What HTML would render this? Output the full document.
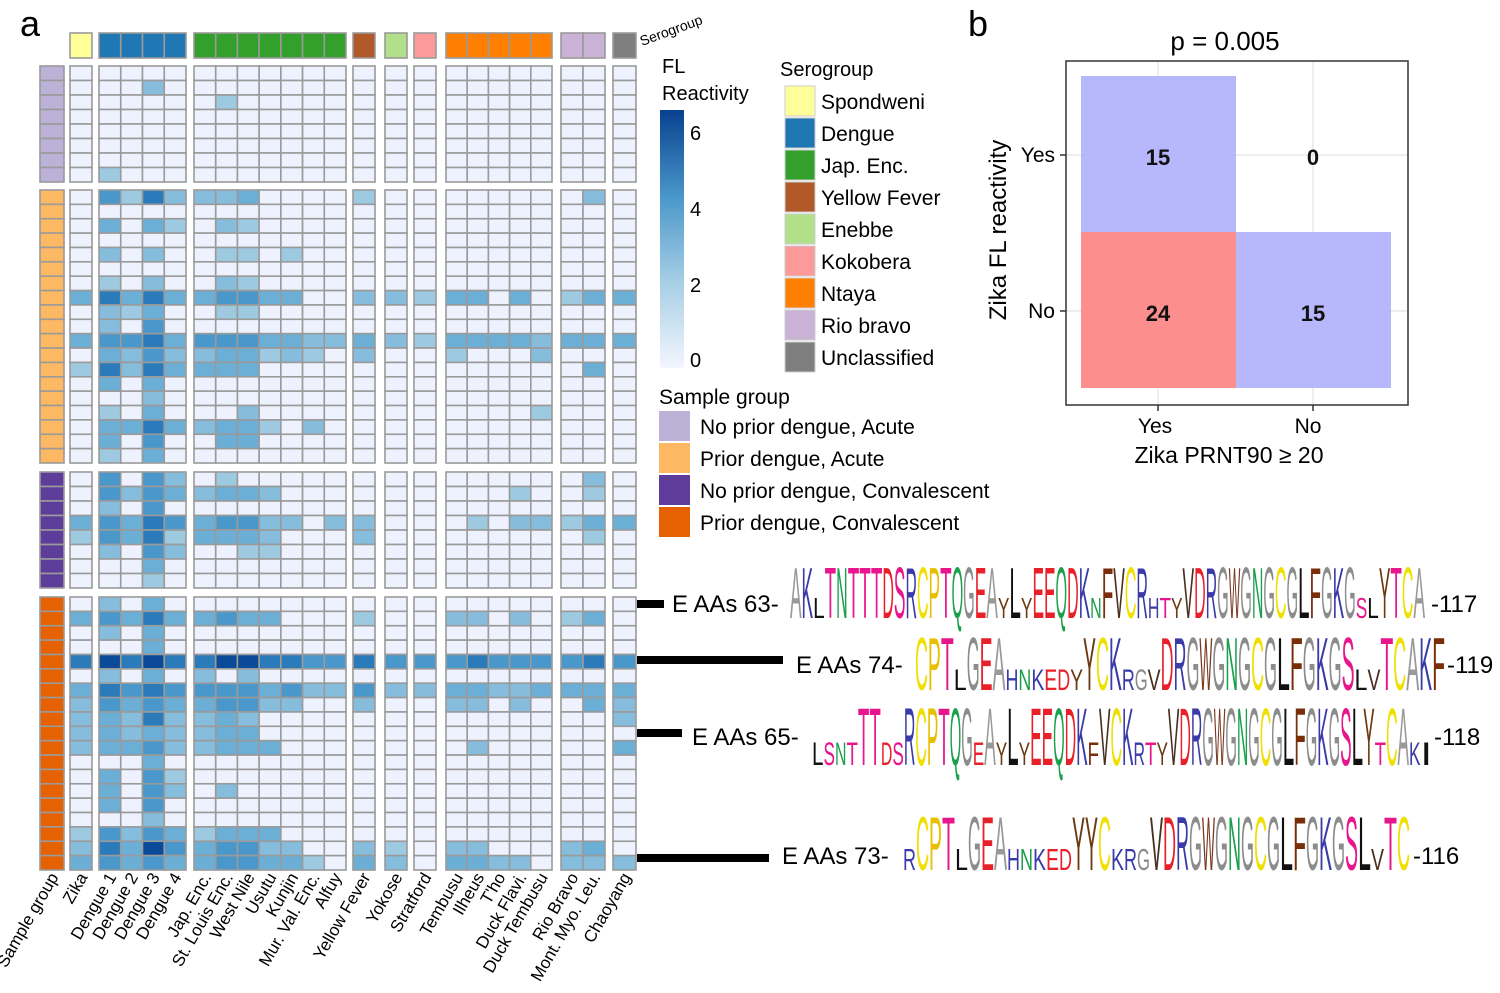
<!DOCTYPE html>
<html><head><meta charset="utf-8"><style>
html,body{margin:0;padding:0;background:#fff;}
svg{display:block;font-family:"Liberation Sans",Arial,sans-serif;}
</style></head><body>
<svg id="s" width="1500" height="993" viewBox="0 0 1500 993" xmlns="http://www.w3.org/2000/svg">
<text x="20" y="36" font-size="36">a</text>
<text x="968" y="36" font-size="36">b</text>
<g id="hm"></g>
<text x="662" y="73" font-size="20">FL</text>
<text x="662" y="100" font-size="20">Reactivity</text>
<defs><linearGradient id="cb" x1="0" y1="1" x2="0" y2="0">
<stop offset="0" stop-color="#f2f5fe"/><stop offset="0.33" stop-color="#a8cfe5"/><stop offset="0.66" stop-color="#4a98cb"/><stop offset="1" stop-color="#08408f"/></linearGradient></defs>
<rect x="660" y="110" width="24" height="258" fill="url(#cb)"/>
<g font-size="20"><text x="690" y="140">6</text><text x="690" y="216">4</text><text x="690" y="292">2</text><text x="690" y="367">0</text></g>
<text x="780" y="76" font-size="20">Serogroup</text>
<g id="lg" font-size="21"></g>
<text x="659" y="404" font-size="21">Sample group</text>
<text x="642" y="46" font-size="14" transform="rotate(-20 642 46)">Serogroup</text>
<text x="1225" y="50" font-size="26" text-anchor="middle">p = 0.005</text>
<rect x="1066" y="61" width="342" height="344" fill="#fff" stroke="#333" stroke-width="1.5"/>
<g stroke="#ddd" stroke-width="1"><line x1="1158" y1="62" x2="1158" y2="404"/><line x1="1313" y1="62" x2="1313" y2="404"/><line x1="1067" y1="155" x2="1407" y2="155"/><line x1="1067" y1="311" x2="1407" y2="311"/></g>
<rect x="1081" y="76" width="155" height="156" fill="#b3b3fb" fill-opacity="0.95"/>
<rect x="1081" y="232" width="155" height="156" fill="#fd8e8e"/>
<rect x="1236" y="232" width="155" height="156" fill="#b3b3fb" fill-opacity="0.95"/>
<g font-size="22" font-weight="bold" text-anchor="middle" fill="#111"><text x="1158" y="165">15</text><text x="1313" y="165">0</text><text x="1158" y="321">24</text><text x="1313" y="321">15</text></g>
<g stroke="#333" stroke-width="1.5"><line x1="1060" y1="155" x2="1066" y2="155"/><line x1="1060" y1="311" x2="1066" y2="311"/><line x1="1158" y1="405" x2="1158" y2="411"/><line x1="1313" y1="405" x2="1313" y2="411"/></g>
<g font-size="21"><text x="1055" y="162" text-anchor="end">Yes</text><text x="1055" y="318" text-anchor="end">No</text>
<text x="1155" y="433" text-anchor="middle">Yes</text><text x="1308" y="433" text-anchor="middle">No</text></g>
<text x="1229" y="463" font-size="23" text-anchor="middle">Zika PRNT90 ≥ 20</text>
<text x="1006" y="230" font-size="24" text-anchor="middle" transform="rotate(-90 1006 230)">Zika FL reactivity</text>
<g fill="#000"><rect x="637" y="600" width="27" height="8"/><rect x="637" y="656" width="146" height="8"/><rect x="637" y="729" width="45" height="8"/><rect x="637" y="854" width="132" height="8"/></g>
<g font-size="24"><text x="672" y="612">E AAs 63-</text><text x="796" y="673">E AAs 74-</text><text x="692" y="745">E AAs 65-</text><text x="782" y="864">E AAs 73-</text>
<text x="1431" y="612">-117</text><text x="1447" y="673">-119</text><text x="1434" y="745">-118</text><text x="1413" y="864">-116</text></g>
<g id="logos"></g>
</svg>
<script>
const NS="http://www.w3.org/2000/svg";
function el(p,t,a,txt){const e=document.createElementNS(NS,t);for(const k in a)e.setAttribute(k,a[k]);if(txt!==undefined)e.textContent=txt;p.appendChild(e);return e;}
const hm=document.getElementById('hm');
const groups=[[70,92,1],[99,186,4],[194,346,7],[353,375,1],[385,407,1],[414,436,1],[446,552,5],[561,605,2],[613,636,1]];
const sgc=['#ffff99','#1f78b4','#33a02c','#b15928','#b2df8a','#fb9a99','#ff7f00','#cab2d6','#7f7f7f'];
const cols=[];
groups.forEach((g,gi)=>{const w=(g[1]-g[0])/g[2];for(let i=0;i<g[2];i++)cols.push([g[0]+i*w,w,gi]);});
const pal=['#eef2fe','#9ecae1','#86bcdc','#6baed6','#4a98cb','#2b7bba','#0b4a98'];
const blocks=[
 [66,182,'#bcb2d8',[
 "0|0000|0000000|0|0|0|00000|00|0","0|0020|0000000|0|0|0|00000|00|0","0|0000|0100000|0|0|0|00000|00|0","0|0000|0000000|0|0|0|00000|00|0",
 "0|0000|0000000|0|0|0|00000|00|0","0|0000|0000000|0|0|0|00000|00|0","0|0000|0000000|0|0|0|00000|00|0","0|1000|0000000|0|0|0|00000|00|0"]],
 [190,463,'#fdb863',[
 "0|4152|2230000|1|0|0|00000|02|0","0|0000|0000000|0|0|0|00000|00|0","0|3031|0210000|0|0|0|00000|00|0","0|0000|0000000|0|0|0|00000|00|0",
 "0|2020|0110100|0|0|0|00000|00|0","0|0000|0000000|0|0|0|00000|00|0","0|1020|0210000|0|0|0|00000|00|0","3|5353|3443300|2|2|1|33030|13|3",
 "0|2130|0110000|0|0|0|00000|00|0","0|2040|0000000|0|0|0|00000|00|0","3|4453|4443322|3|2|1|33332|33|3","0|3242|2331210|2|0|0|10002|00|0",
 "1|5253|3330000|0|0|0|00000|03|0","0|3030|0000000|0|0|0|00000|00|0","0|0020|0000000|0|0|0|00000|00|0","0|1030|0020000|0|0|0|00001|00|0",
 "0|3353|2331020|0|0|0|00000|00|0","0|3040|0330000|0|0|0|00000|00|0","0|1030|0000000|0|0|0|00000|00|0"]],
 [472,588,'#5e3c99',[
 "0|4042|0100000|0|0|0|00000|02|0","0|4243|2332000|0|0|0|00010|01|0","0|2040|0000000|0|0|0|00000|00|0","3|4354|3442202|2|0|0|01022|13|3",
 "1|4351|3332000|2|0|0|00000|01|0","0|2042|0011000|0|0|0|00000|00|0","0|0030|0000000|0|0|0|00000|00|0","0|0010|0000000|0|0|0|00000|00|0"]],
 [597,870,'#e66101',[
 "0|2030|0000000|0|0|0|00000|00|0","3|4353|3433000|1|0|0|22020|13|0","0|2030|0000000|0|0|0|00000|00|0","0|0030|0000000|0|0|0|00000|00|0",
 "5|6565|5665544|5|4|4|45444|45|4","0|2030|2020000|0|0|0|00000|00|0","3|5454|4443422|4|2|2|33223|33|3","2|4343|3442200|2|0|0|22020|03|2",
 "2|3252|2320000|0|0|0|00000|00|2","2|3232|2330000|0|0|0|00000|00|0","2|3342|2333000|0|0|0|02000|00|3","0|0030|0000000|0|0|0|00000|00|0",
 "0|3041|0000000|0|0|0|00000|00|0","0|3042|0200000|0|0|0|00000|00|0","0|3040|0000000|0|0|0|00000|00|0","0|0020|0000000|0|0|0|00000|00|0",
 "1|4243|1333000|0|0|0|00000|00|0","2|5364|3442200|2|1|0|22000|23|0","3|4343|3443310|3|2|0|33220|22|2"]]
];
const st={stroke:'#9a9a9a','stroke-width':1.6};
cols.forEach(c=>el(hm,'rect',Object.assign({x:c[0],y:33,width:c[1],height:25,fill:sgc[c[2]]},st)));
blocks.forEach(b=>{
 const n=b[3].length,h=(b[1]-b[0])/n;
 for(let r=0;r<n;r++){
  const y=b[0]+r*h;
  el(hm,'rect',Object.assign({x:40,y:y,width:24,height:h,fill:b[2]},st));
  const d=b[3][r].replace(/\|/g,'');
  cols.forEach((c,i)=>el(hm,'rect',Object.assign({x:c[0],y:y,width:c[1],height:h,fill:pal[+d[i]]},st)));
 }
});
const labs=["Sample group","Zika","Dengue 1","Dengue 2","Dengue 3","Dengue 4","Jap. Enc.","St. Louis Enc.","West Nile","Usutu","Kunjin","Mur. Val. Enc.","Alfuy","Yellow Fever","Yokose","Stratford","Tembusu","Ilheus","T'ho","Duck Flavi.","Duck Tembusu","Rio Bravo","Mont. Myo. Leu.","Chaoyang"];
const cx=[52].concat(cols.map(c=>c[0]+c[1]/2));
labs.forEach((l,i)=>{const x=cx[i]+7,y=877;el(hm,'text',{x:x,y:y,'font-size':17,'text-anchor':'end',transform:`rotate(-60 ${x} ${y})`},l);});
const lg=document.getElementById('lg');
const sgn=["Spondweni","Dengue","Jap. Enc.","Yellow Fever","Enebbe","Kokobera","Ntaya","Rio bravo","Unclassified"];
sgn.forEach((n,i)=>{const y=86+i*32;el(lg,'rect',{x:785,y:y,width:30,height:30,fill:sgc[i],stroke:'#ccc'});el(lg,'text',{x:821,y:y+23},n);});
const smn=["No prior dengue, Acute","Prior dengue, Acute","No prior dengue, Convalescent","Prior dengue, Convalescent"];
const smc=['#bcb2d8','#fdb863','#5e3c99','#e66101'];
smn.forEach((n,i)=>{const y=411+i*32;el(lg,'rect',{x:659,y:y,width:31,height:30,fill:smc[i]});el(lg,'text',{x:700,y:y+23},n);});
const lc={A:'#999',K:'#3a3aa8',L:'#111',T:'#e8168c',N:'#1aa04a',S:'#e8168c',D:'#e8202a',R:'#3a3aa8',C:'#f0e000',P:'#e8c000',Q:'#1aa04a',G:'#8c8c8c',E:'#e8202a',Y:'#6b3a10',V:'#4a3020',F:'#7a2e08',W:'#7a3a20',H:'#3a3aa8',I:'#111',M:'#1aa04a'};
const lo=document.getElementById('logos');
function logo(seq,x0,x1,top,bot,small){
 const w=(x1-x0)/seq.length,hgt=bot-top;
 for(let i=0;i<seq.length;i++){
  const ch=seq[i];const sm=small.includes(i);
  const hh=sm?hgt*0.4:hgt;const x=x0+i*w;
  el(lo,'text',{x:0,y:0,'font-size':100,fill:lc[ch]||'#888',textLength:60,lengthAdjust:'spacingAndGlyphs',transform:`translate(${x} ${bot}) scale(${w/60} ${hh/72})`},ch);
 }
}
logo("AKLTNTTTDSRCPTQGEAYLYEEQDKNFVCRHTYVDRGWGNGCGLFGKGSLYTCA",790,1425,566,618,[2,18,20,26,31,32,33,49,50]);
logo("CPTLGEAHNKEDYYCKRGVDRGWGNGCGLFGKGSLVTCAKF",915,1445,636,690,[3,7,8,9,10,11,12,16,17,18,34,35]);
logo("LSNTTTDSRCPTQGEAYLYEEQDKFVCKRTYVDRGWGNGCGLFGKGSLYTCAKI",812,1432,706,765,[0,1,2,3,6,7,14,16,18,24,28,29,30,49,52,53]);
logo("RCPTLGEAHNKEDYYCKRGVDRGWGNGCGLFGKGSLVTC",903,1410,815,870,[0,4,8,9,10,11,12,16,17,18,36]);
</script>
</body></html>
